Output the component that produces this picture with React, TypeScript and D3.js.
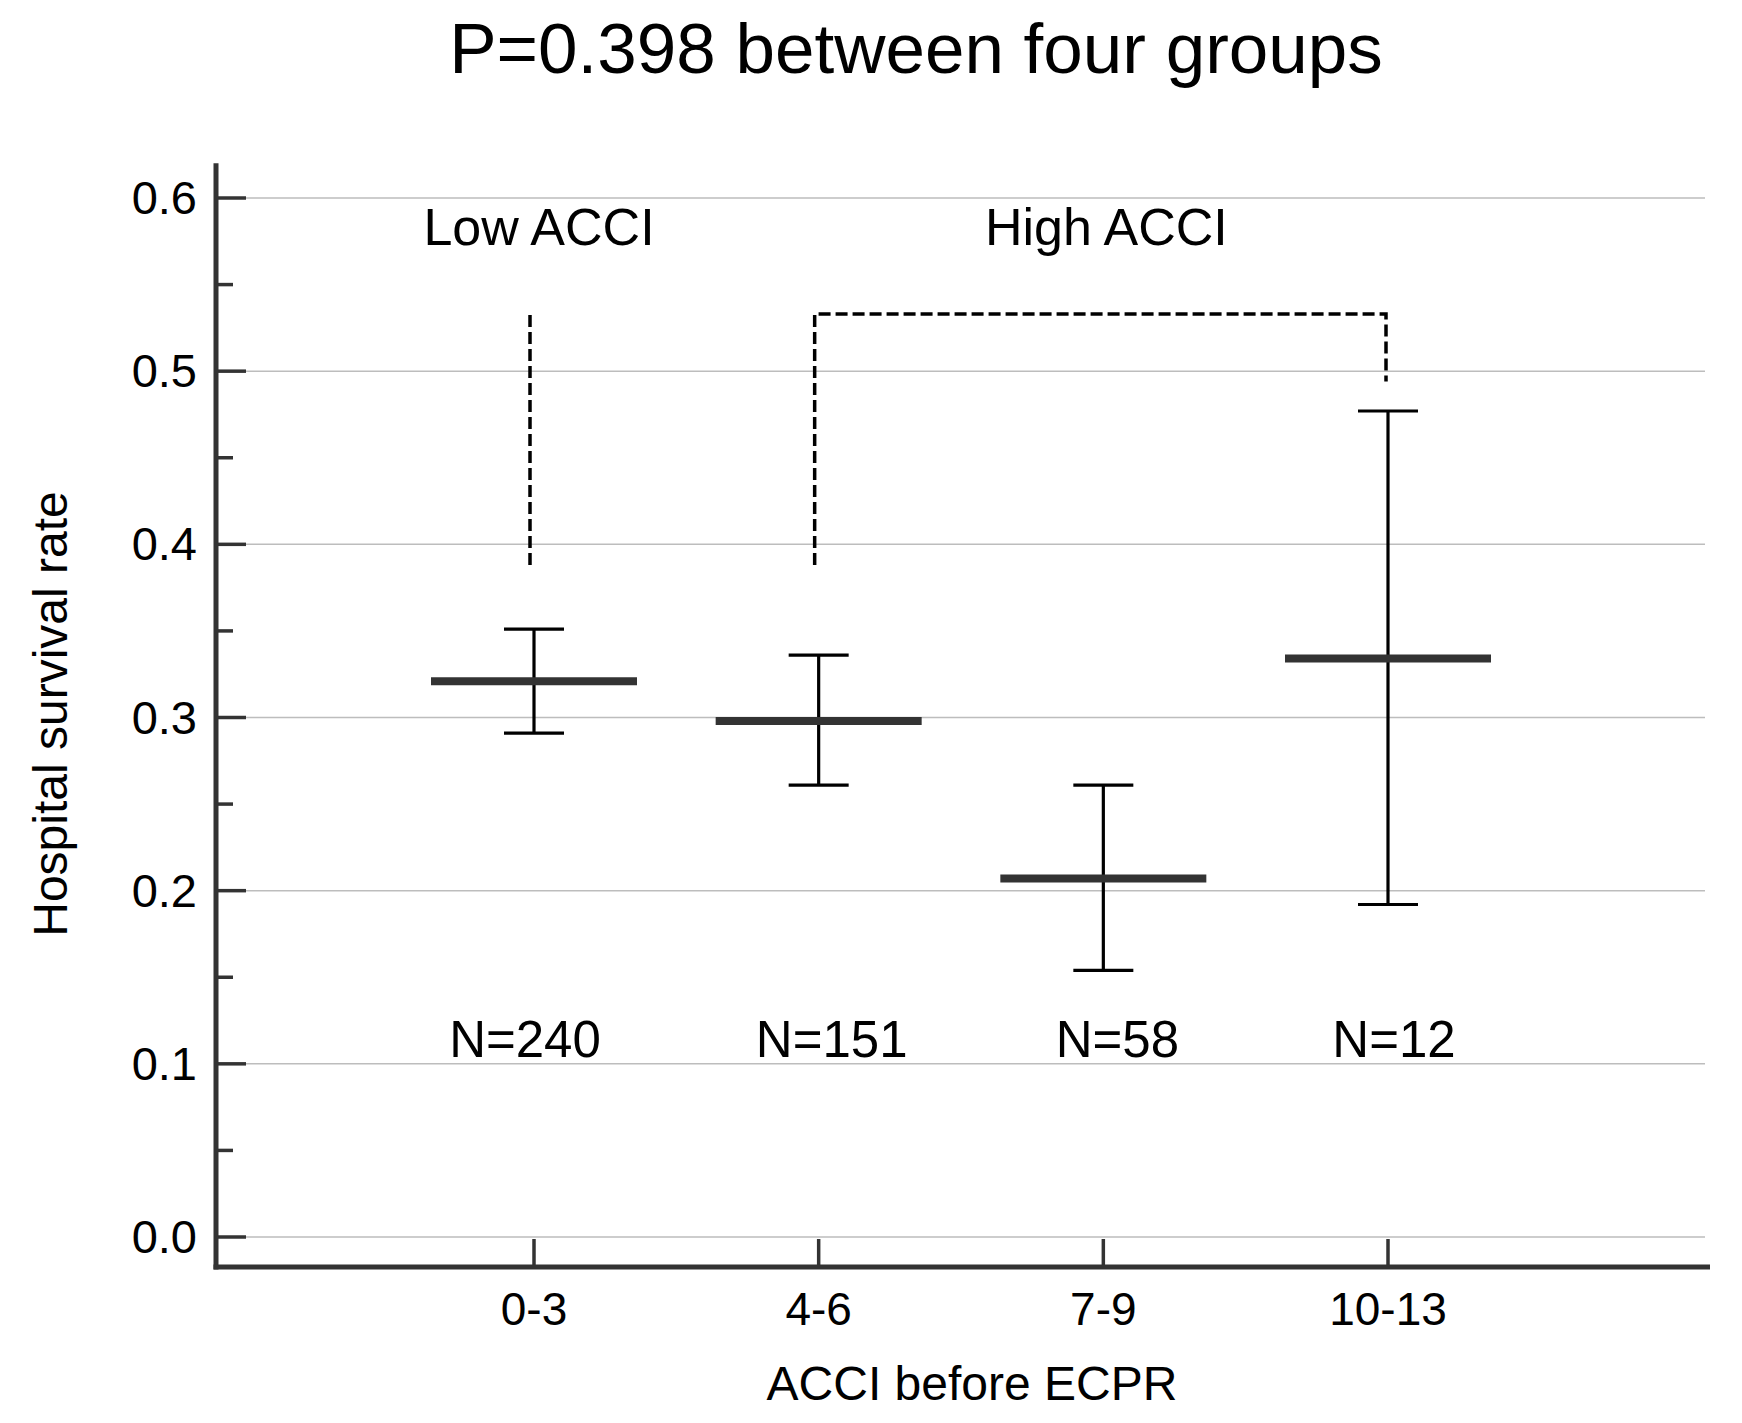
import React from 'react'
import * as d3 from 'd3'

const categories = ['0-3', '4-6', '7-9', '10-13']
const means = [0.321, 0.298, 0.207, 0.334]
const lowerCI = [0.291, 0.261, 0.154, 0.192]
const upperCI = [0.351, 0.336, 0.261, 0.477]
const nLabels = ['N=240', 'N=151', 'N=58', 'N=12']
const yTicks = [0, 0.1, 0.2, 0.3, 0.4, 0.5, 0.6]
const yMinorTicks = [0.05, 0.15, 0.25, 0.35, 0.45, 0.55]

// dashed connectors (values on the y scale)
const lowDash = { cat: '0-3', from: 0.388, to: 0.533 }
const highBracket = { from: '4-6', to: '10-13', bottomLeft: 0.388, top: 0.533, bottomRight: 0.494 }

const W = 1742
const H = 1423
const axisX = 216
const axisY = 1267
const axisRight = 1710
const font = '"Liberation Sans", Arial, sans-serif'

export default function App() {
  const y = d3.scaleLinear().domain([0, 0.6]).range([1237, 198])
  const x = d3.scalePoint<string>().domain(categories).range([534, 1388])
  const fmt = d3.format('.1f')
  const nDx = [-9, 13, 14, 6]

  const bx0 = (x(highBracket.from) ?? 0) - 4
  const bx1 = (x(highBracket.to) ?? 0) - 2
  const bracket = d3.line()([
    [bx0, y(highBracket.bottomLeft)],
    [bx0, y(highBracket.top)],
    [bx1, y(highBracket.top)],
    [bx1, y(highBracket.bottomRight)],
  ]) || ''

  return (
    <svg
      width={W}
      height={H}
      viewBox={`0 0 ${W} ${H}`}
      style={{ position: 'absolute', left: 0, top: 0, background: '#fff' }}
      fontFamily={font}
    >
      <text x={916} y={73} fontSize={71} textAnchor="middle" fill="#000">
        P=0.398 between four groups
      </text>

      {/* grid */}
      {yTicks.map((t) => (
        <line key={`g-${t}`} x1={axisX} x2={1705} y1={y(t)} y2={y(t)} stroke="#bdbdbd" strokeWidth={1.5} />
      ))}

      {/* y ticks */}
      {yTicks.map((t) => (
        <g key={`yt-${t}`}>
          <line x1={axisX} x2={axisX + 30} y1={y(t)} y2={y(t)} stroke="#333" strokeWidth={3.5} />
          <text x={197} y={y(t) + 16} fontSize={47} textAnchor="end" fill="#000">
            {fmt(t)}
          </text>
        </g>
      ))}
      {yMinorTicks.map((t) => (
        <line key={`ym-${t}`} x1={axisX} x2={axisX + 17} y1={y(t)} y2={y(t)} stroke="#333" strokeWidth={3.5} />
      ))}

      {/* x ticks */}
      {categories.map((c) => (
        <g key={`xt-${c}`}>
          <line x1={x(c)} x2={x(c)} y1={axisY} y2={axisY - 28} stroke="#333" strokeWidth={3.5} />
          <text x={x(c)} y={1325} fontSize={46} textAnchor="middle" fill="#000">
            {c}
          </text>
        </g>
      ))}

      {/* axes */}
      <line x1={axisX} x2={axisX} y1={y(0.62)} y2={axisY + 2.5} stroke="#333" strokeWidth={5} />
      <line x1={axisX - 2.5} x2={axisRight} y1={axisY} y2={axisY} stroke="#333" strokeWidth={5} />

      {/* error bars + means */}
      {categories.map((c, i) => {
        const cx = x(c) ?? 0
        return (
          <g key={`eb-${c}`}>
            <line x1={cx} x2={cx} y1={y(lowerCI[i])} y2={y(upperCI[i])} stroke="#000" strokeWidth={3.2} />
            <line x1={cx - 30} x2={cx + 30} y1={y(lowerCI[i])} y2={y(lowerCI[i])} stroke="#000" strokeWidth={3.2} />
            <line x1={cx - 30} x2={cx + 30} y1={y(upperCI[i])} y2={y(upperCI[i])} stroke="#000" strokeWidth={3.2} />
            <line x1={cx - 103} x2={cx + 103} y1={y(means[i])} y2={y(means[i])} stroke="#333" strokeWidth={8} />
            <text x={cx + nDx[i]} y={1057} fontSize={51} textAnchor="middle" fill="#000">
              {nLabels[i]}
            </text>
          </g>
        )
      })}

      {/* dashed connectors */}
      <line
        x1={(x(lowDash.cat) ?? 0) - 4}
        x2={(x(lowDash.cat) ?? 0) - 4}
        y1={y(lowDash.from)}
        y2={y(lowDash.to)}
        stroke="#000"
        strokeWidth={3.5}
        strokeDasharray="12 5"
      />
      <path d={bracket} fill="none" stroke="#000" strokeWidth={3.5} strokeDasharray="12 5" />

      <text x={(x('0-3') ?? 0) + 5} y={245} fontSize={52} textAnchor="middle" fill="#000">
        Low ACCI
      </text>
      <text x={(x('7-9') ?? 0) + 3} y={245} fontSize={52} textAnchor="middle" fill="#000">
        High ACCI
      </text>

      <text x={972} y={1400} fontSize={48} textAnchor="middle" fill="#000">
        ACCI before ECPR
      </text>
      <text
        transform="translate(67, 714) rotate(-90)"
        fontSize={48}
        textAnchor="middle"
        fill="#000"
      >
        Hospital survival rate
      </text>
    </svg>
  )
}
